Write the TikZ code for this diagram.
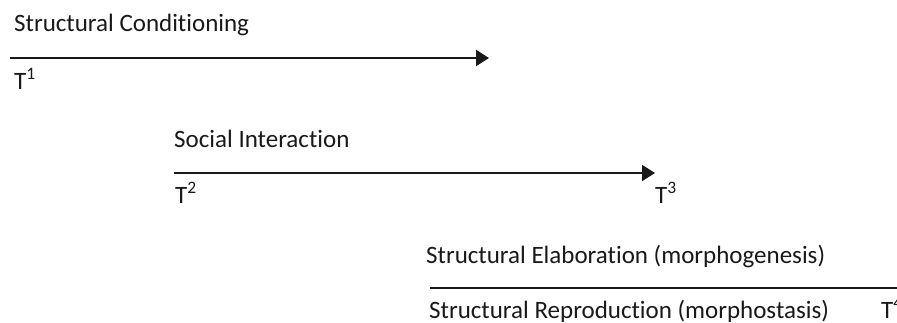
\documentclass[tikz,border=0pt]{standalone}
\usepackage{fontspec}
\setmainfont[Ligatures=NoCommon]{Carlito}
\usetikzlibrary{arrows.meta}
\begin{document}
\begin{tikzpicture}[x=1pt,y=-1pt,
  lbl/.style={anchor=base west, inner sep=0pt, text=black!90, font=\fontsize{25}{30}\selectfont},
  timeline/.style={line width=2.2pt, black!90, -{Triangle[length=13pt,width=16pt]}}]
\useasboundingbox (0,0) rectangle (897,322);
\clip (0,0) rectangle (897,322);

\node[lbl] (cond) at (14,31) {Structural Conditioning};
\coordinate (c1) at (10,58);
\coordinate (c2) at (489,58);
\draw[timeline] (c1) -- (c2);
\node[lbl] (t1) at (14,89) {T\textsuperscript{1}};
%Phase 1

\node[lbl] (inter) at (174,147) {Social Interaction};
\coordinate (i1) at (174,173);
\coordinate (i2) at (655,173);
\draw[timeline] (i1) -- (i2);
\node[lbl] (t2) at (175,203) {T\textsuperscript{2}};
\node[lbl] (t3) at (655,203) {T\textsuperscript{3}};
%Phase 2

\node[lbl] (elab) at (426,263) {Structural Elaboration (morphogenesis)};
\coordinate (e1) at (430,288);
\coordinate (e2) at (910,288);
\draw[timeline] (e1) -- (e2);
\node[lbl] (repr) at (429,318) {Structural Reproduction (morphostasis)};
\node[lbl] (t4) at (881,318) {T\textsuperscript{4}};
%Phase 3
\end{tikzpicture}
\end{document}
